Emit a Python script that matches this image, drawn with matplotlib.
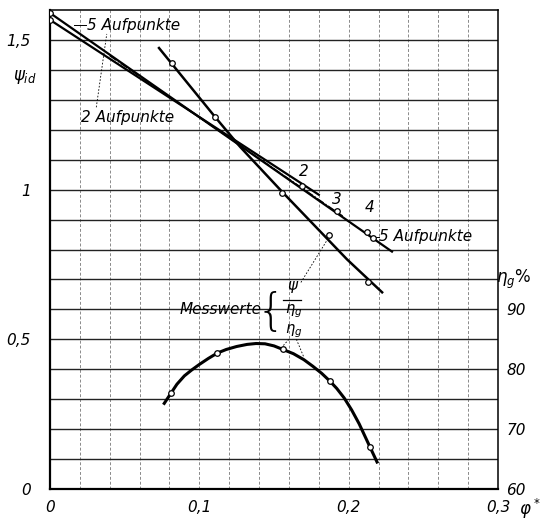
import numpy as np
import matplotlib
matplotlib.use("Agg")
import matplotlib.pyplot as plt

# ---------------- data ----------------
# psi_id lines computed with different numbers of "Aufpunkte"
line5_phi = [0.0, 0.229]
line5_psi = [1.59, 0.793]
line2_phi = [0.0, 0.180]
line2_psi = [1.567, 0.983]
line3_phi = [0.04, 0.196]
line3_psi = [1.447, 0.912]
# end points of the Aufpunkte lines
pts_phi = [0.0, 0.0, 0.1688, 0.192, 0.212, 0.216]
pts_psi = [1.59, 1.567, 1.013, 0.927, 0.86, 0.84]

# measured psi/eta_g line (steep)
steep_phi = [0.073, 0.1105, 0.1273, 0.1554, 0.1989, 0.2224]
steep_psi = [1.473, 1.243, 1.143, 0.993, 0.767, 0.657]
steep_pt_phi = [0.0817, 0.1105, 0.1554, 0.213]
steep_pt_psi = [1.423, 1.243, 0.99, 0.69]
# measured psi point
psi_pt_phi = [0.1869]
psi_pt_psi = [0.847]

# efficiency curve eta_g in %
eta_phi = [0.0765, 0.081, 0.085, 0.09, 0.095, 0.10, 0.106, 0.112, 0.118,
           0.125, 0.132, 0.138, 0.144, 0.15, 0.156, 0.163, 0.170, 0.176,
           0.182, 0.1875, 0.192, 0.197, 0.202, 0.207, 0.2143, 0.219]
eta_val = [74.3, 76.0, 77.5, 78.9, 79.9, 80.8, 81.8, 82.7, 83.3,
           83.8, 84.15, 84.3, 84.25, 83.9, 83.3, 82.6, 81.6, 80.5,
           79.3, 78.0, 76.8, 75.2, 73.2, 70.9, 67.0, 64.5]
eta_pt_phi = [0.081, 0.112, 0.156, 0.1875, 0.2143]
eta_pt_val = [76.0, 82.7, 83.3, 78.0, 67.0]

x_ticks = [0.0, 0.1, 0.2, 0.3]
x_labels = ["0", "0,1", "0,2", "0,3"]
y_ticks = [0.0, 0.5, 1.0, 1.5]
y_labels = ["0", "0,5", "1", "1,5"]
eta_ticks = [60, 70, 80, 90]
eta_labels = ["60", "70", "80", "90"]

# ---------------- figure ----------------
plt.rcParams['font.family'] = ['DejaVu Sans']
fig = plt.figure(figsize=(5.44, 5.20), dpi=100)
ax = fig.add_axes([50/544, 31/520, 448/544, 479/520])
ax.set_xlim(0, 0.3)
ax.set_ylim(0, 1.6)

# grid
for xv in np.arange(0.02, 0.299, 0.02):
    ax.axvline(xv, color='#8a8a8a', lw=0.7, ls=(0, (3, 2)), zorder=0)
for yv in np.arange(0.1, 1.59, 0.1):
    ax.axhline(yv, color='#222222', lw=1.0, zorder=0)

for s in ['left', 'bottom']:
    ax.spines[s].set_linewidth(1.6)
for s in ['right', 'top']:
    ax.spines[s].set_linewidth(1.1)

ax.set_xticks(x_ticks)
ax.set_xticklabels(x_labels, fontstyle='italic', fontsize=11)
ax.set_yticks(y_ticks)
ax.set_yticklabels(y_labels, fontstyle='italic', fontsize=11)
ax.tick_params(axis='x', length=0, pad=8)
ax.tick_params(axis='y', length=0, pad=14)

mk = dict(marker='o', ms=4, mfc='white', mec='black', mew=0.9, ls='none', zorder=5)

ax.plot(line5_phi, line5_psi, color='black', lw=1.6, zorder=3)
ax.plot(line2_phi, line2_psi, color='black', lw=1.6, zorder=3)
ax.plot(line3_phi, line3_psi, color='black', lw=0.9, ls='-.', zorder=3)
ax.plot(pts_phi, pts_psi, **mk)

ax.plot(steep_phi, steep_psi, color='black', lw=1.8, zorder=3)
ax.plot(steep_pt_phi, steep_pt_psi, **mk)
ax.plot(psi_pt_phi, psi_pt_psi, **mk)

ax2 = ax.twinx()
ax2.set_ylim(60, 140)
ax2.set_yticks(eta_ticks)
ax2.set_yticklabels(eta_labels, fontstyle='italic', fontsize=11)
ax2.tick_params(axis='y', length=0, pad=6)
for s in ax2.spines.values():
    s.set_visible(False)
ax2.plot(eta_phi, eta_val, color='black', lw=2.2, zorder=3,
         solid_joinstyle='round')
ax2.plot(eta_pt_phi, eta_pt_val, **mk)

# ---------------- texts ----------------
tkw = dict(fontstyle='italic', fontsize=11, color='black')
ax.text(0.025, 1.547, "5 Aufpunkte", ha='left', va='center', **tkw)
ax.plot([0.016, 0.024], [1.55, 1.55], color='black', lw=0.7)
ax.text(0.021, 1.24, "2 Aufpunkte", ha='left', va='center', **tkw)
ax.plot([0.031, 0.038], [1.275, 1.52], color='black', lw=0.6, ls=(0, (2, 2)))
ax.text(0.170, 1.06, "2", ha='center', va='center', **tkw)
ax.text(0.192, 0.967, "3", ha='center', va='center', **tkw)
ax.text(0.2137, 0.94, "4", ha='center', va='center', **tkw)
ax.text(0.2205, 0.843, "5 Aufpunkte", ha='left', va='center', **tkw)
ax.plot([0.216, 0.2205], [0.842, 0.842], color='black', lw=0.7)

ax.text(0.087, 0.60, "Messwerte", ha='left', va='center', **tkw)
ax.text(0.1475, 0.59, "{", ha='center', va='center', fontsize=32,
        fontweight='light')
ax.text(0.1625, 0.675, r"$\psi$", ha='center', va='center', fontsize=11)
ax.plot([0.156, 0.168], [0.630, 0.630], color='black', lw=0.9)
ax.text(0.163, 0.593, r"$\eta_g$", ha='center', va='center', fontsize=10.5)
ax.text(0.163, 0.528, r"$\eta_g$", ha='center', va='center', fontsize=10.5)
# leaders
ax.plot([0.168, 0.186], [0.69, 0.835], color='black', lw=0.6, ls=(0, (2, 2)))
ax.plot([0.160, 0.156], [0.50, 0.478], color='black', lw=0.6, ls=(0, (2, 2)))
ax.plot([0.165, 0.170], [0.50, 0.44], color='black', lw=0.6, ls=(0, (2, 2)))

ax.text(-0.0167, 1.377, r"$\psi_{id}$", ha='center', va='center', fontsize=12)
ax.text(0.3215, -0.066, r"$\varphi^*$", ha='center', va='center', fontsize=12,
        clip_on=False)
ax.text(1.035, 0.7, r"$\eta_g\%$", ha='center', va='center', fontsize=12,
        transform=ax.get_yaxis_transform())

fig.savefig("out.png", dpi=100)
